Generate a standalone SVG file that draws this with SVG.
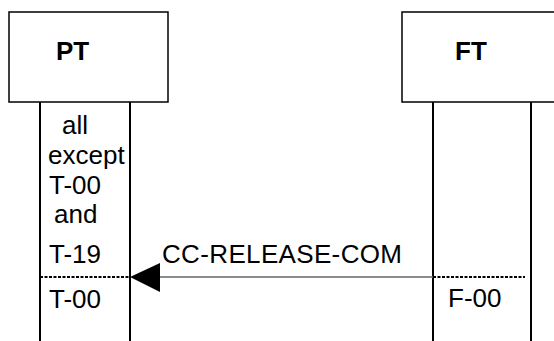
<svg xmlns="http://www.w3.org/2000/svg" width="554" height="341" viewBox="0 0 554 341">
<style>
.box{fill:#fff;stroke:#000;stroke-width:1.5}
.life{stroke:#000;stroke-width:2}
.dot{stroke:#000;stroke-width:2;stroke-dasharray:3 1.5}
.t{font-family:"Liberation Sans",Arial,sans-serif;font-size:26px;fill:#000}
.b{font-family:"Liberation Sans",Arial,sans-serif;font-size:26px;font-weight:bold;fill:#000}
</style>
<rect width="554" height="341" fill="#fff"/>
<g id="PT">
<rect class="box" x="9" y="12" width="159" height="90"/>
<text class="b" x="56" y="60">PT</text>
<line class="life" x1="40" y1="102" x2="40" y2="341"/>
<line class="life" x1="130" y1="102" x2="130" y2="341"/>
<text class="t" x="62" y="134">all</text>
<text class="t" x="48" y="164">except</text>
<text class="t" x="49" y="194">T-00</text>
<text class="t" x="54" y="223">and</text>
<text class="t" x="49" y="263">T-19</text>
<line class="dot" x1="40" y1="277" x2="130" y2="277"/>
<text class="t" x="49" y="308">T-00</text>
</g>
<g id="FT">
<rect class="box" x="402" y="12" width="154" height="90"/>
<text class="b" x="455" y="60">FT</text>
<line class="life" x1="433" y1="102" x2="433" y2="341"/>
<line class="life" x1="531" y1="102" x2="531" y2="341"/>
<line class="dot" x1="433" y1="277" x2="525" y2="277"/>
<text class="t" x="448" y="307">F-00</text>
</g>
<g id="connectors">
<line x1="158" y1="277" x2="433" y2="277" stroke="#666" stroke-width="1.3"/>
<polygon points="130,277 160,263 160,292" fill="#000"/>
<text class="t" x="162" y="263" textLength="240">CC-RELEASE-COM</text>
</g>
</svg>
